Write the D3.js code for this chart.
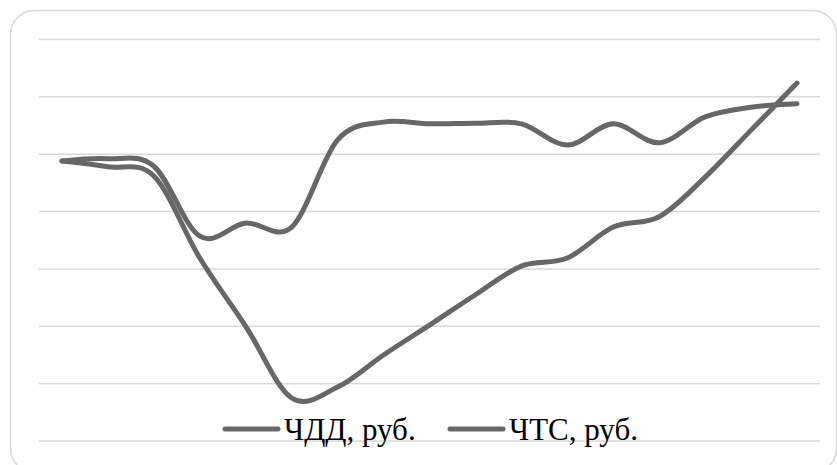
<!DOCTYPE html>
<html>
<head>
<meta charset="utf-8">
<script src="https://cdn.jsdelivr.net/npm/d3@7"></script>
<style>
  html, body { margin: 0; padding: 0; background: #fff; }
  svg { display: block; }
</style>
</head>
<body>
<div id="chart"></div>
<script>
// periods (17 points on the x axis, no labels shown)
var periods = d3.range(0, 17);

// series values, mln rub.
var chddValues = [-0.12, -0.08, -0.21, -1.43, -1.20, -1.27, 0.25, 0.56, 0.53, 0.54, 0.53, 0.16, 0.53, 0.20, 0.65, 0.82, 0.88];
var chtsValues = [-0.12, -0.22, -0.38, -1.81, -3.00, -4.25, -4.06, -3.50, -2.98, -2.45, -1.95, -1.81, -1.27, -1.09, -0.40, 0.42, 1.24];

var seriesNames = ["ЧДД, руб.", "ЧТС, руб."];
var yTicks = [-5, -4, -3, -2, -1, 0, 1, 2];

var width = 837, height = 465;
var plot = {left: 39, right: 820, top: 39.5, bottom: 441};
var lineColor = "#676767";

var svg = d3.select("#chart").append("svg")
    .attr("width", width)
    .attr("height", height);

// outer frame
svg.append("rect")
    .attr("x", 10.5).attr("y", 10.5)
    .attr("width", 826).attr("height", 462)
    .attr("rx", 24).attr("ry", 24)
    .attr("fill", "#fff")
    .attr("stroke", "#d9d9d9")
    .attr("stroke-width", 1.5);

var x = d3.scalePoint()
    .domain(periods)
    .range([plot.left, plot.right])
    .padding(0.5);

var y = d3.scaleLinear()
    .domain([-5, 2])
    .range([plot.bottom, plot.top]);

// gridlines
svg.append("g")
  .selectAll("line")
  .data(yTicks)
  .enter().append("line")
    .attr("x1", plot.left)
    .attr("x2", plot.right)
    .attr("y1", function(d) { return y(d); })
    .attr("y2", function(d) { return y(d); })
    .attr("stroke", "#d9d9d9")
    .attr("stroke-width", 1.5);

var line = d3.line()
    .x(function(d, i) { return x(periods[i]); })
    .y(function(d) { return y(d); })
    .curve(d3.curveCardinal.tension(0));

var series = [chddValues, chtsValues];

svg.append("g")
  .selectAll("path")
  .data(series)
  .enter().append("path")
    .attr("d", line)
    .attr("fill", "none")
    .attr("stroke", lineColor)
    .attr("stroke-width", 5)
    .attr("stroke-linecap", "round")
    .attr("stroke-linejoin", "round");

// legend
var legendX = [225, 450];
var legend = svg.append("g")
  .selectAll("g")
  .data(seriesNames)
  .enter().append("g")
    .attr("transform", function(d, i) { return "translate(" + legendX[i] + ",429)"; });

legend.append("line")
    .attr("x1", 0).attr("x2", 53)
    .attr("stroke", lineColor)
    .attr("stroke-width", 5)
    .attr("stroke-linecap", "round");

legend.append("text")
    .attr("x", 59)
    .attr("y", 11)
    .attr("font-family", "'Liberation Serif', 'Times New Roman', serif")
    .attr("font-size", 31)
    .attr("fill", "#000")
    .text(function(d) { return d; });
</script>
</body>
</html>
